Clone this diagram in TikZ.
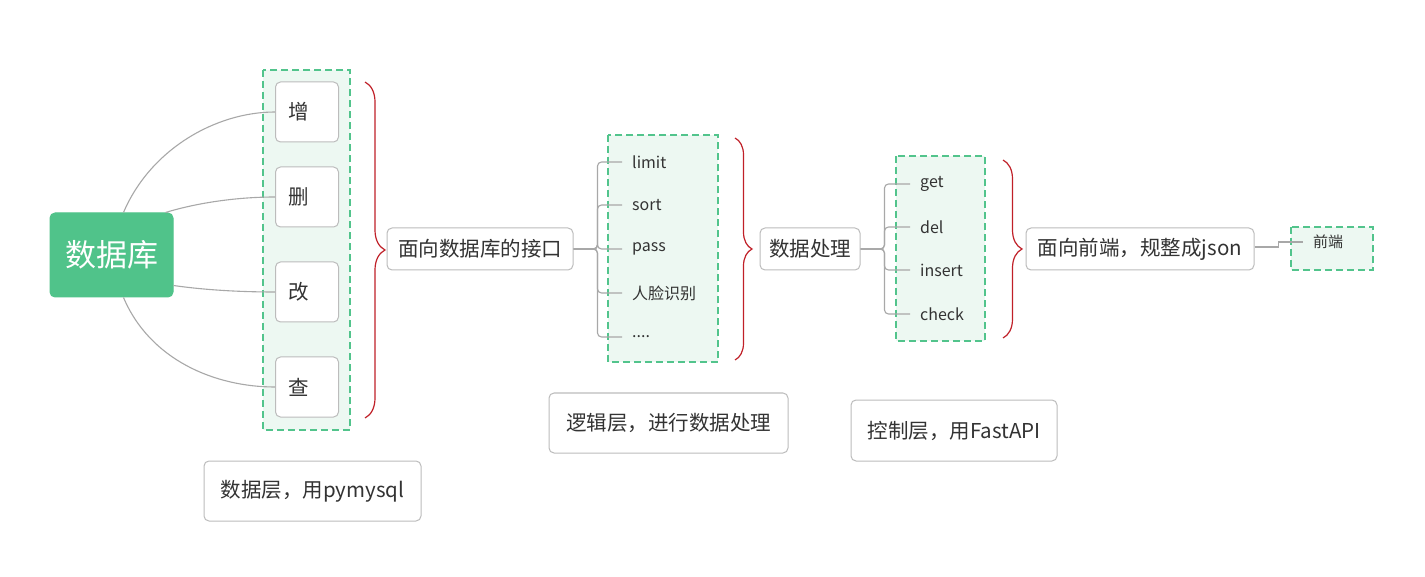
\documentclass[tikz,border=0pt]{standalone}
\usepackage{fontspec}
\setmainfont{Noto Sans CJK SC}
\usepackage{tikz}
\usetikzlibrary{decorations.pathreplacing}
\definecolor{rootgreen}{RGB}{80,195,138}
\definecolor{dashgreen}{RGB}{82,196,140}
\definecolor{paleg}{RGB}{237,248,242}
\definecolor{boxgray}{RGB}{188,188,188}
\definecolor{linegray}{RGB}{168,168,168}
\definecolor{bracered}{RGB}{192,32,40}
\definecolor{txt}{RGB}{51,51,51}
\tikzset{
    group/.style={draw=dashgreen, fill=paleg, line width=2.8pt, dash pattern=on 7pt off 4pt},
    topic/.style={draw=boxgray, fill=white, rounded corners=5pt, line width=1pt, text=txt,
        font=\fontsize{20.5}{24}\selectfont, inner sep=0pt},
    op/.style={topic, anchor=west, text width=37pt, inner xsep=13pt, minimum height=60pt, align=left},
    leaf/.style={anchor=west, inner xsep=10pt, inner ysep=2pt, text=txt, font=\fontsize{16}{19}\selectfont},
    link/.style={draw=linegray, line width=1.1pt},
    tree/.style={link, rounded corners=4pt},
    curly/.style={draw=bracered, line width=1.2pt, decorate, decoration={brace, amplitude=#1}}
}
\begin{document}
\begin{tikzpicture}[x=1pt,y=-1pt]
\useasboundingbox[fill=white] (0,0) rectangle (1425,577);

% dashed groups
\draw[group] (263,70) rectangle (350,430);
\draw[group] (608,135) rectangle (718,362);
\draw[group] (896,156) rectangle (985,341);
\draw[group] (1291,227) rectangle (1373,270);

% database and its four operations
\node[topic, minimum width=123pt, minimum height=84pt, fill=rootgreen, draw=rootgreen, text=white,
    font=\fontsize{31}{36}\selectfont] (db) at (111.5,255) {数据库};

\node[op] (add) at (275,112) {增};
\node[op] (del) at (275,197) {删};
\node[op] (upd) at (275,292) {改};
\node[op] (qry) at (275,387) {查};

\draw[link] ([xshift=12pt]db.north) .. controls (150,150) and (215,112) .. (add.west);
\draw[link] ([xshift=-8pt]db.north east) .. controls (200,202) and (240,197) .. (del.west);
\draw[link] ([yshift=12pt]db.south east) .. controls (205,290) and (240,292) .. (upd.west);
\draw[link] ([xshift=12pt]db.south) .. controls (150,360) and (215,387) .. (qry.west);

\draw[curly=20pt] (365,82) -- (365,418);

% interface layer
\node[topic, minimum width=186pt, minimum height=42pt] (api) at (480,249) {面向数据库的接口};

\node[leaf] (limit) at (622,162) {limit};
\node[leaf] (sort) at (622,205) {sort};
\node[leaf] (pass) at (622,249) {pass};
\node[leaf] (face) at (622,293) {人脸识别};
\node[leaf] (more) at (622,337) {....};

\draw[tree] (api.east) -- ++(24,0) |- (limit.west);
\draw[tree] (api.east) -- ++(24,0) |- (sort.west);
\draw[tree] (api.east) -- ++(24,0) |- (pass.west);
\draw[tree] (api.east) -- ++(24,0) |- (face.west);
\draw[tree] (api.east) -- ++(24,0) |- (more.west);

\draw[curly=17pt] (735,138) -- (735,360);

% processing
\node[topic, minimum width=100pt, minimum height=42pt] (proc) at (810,249) {数据处理};

\node[leaf] (get) at (910,184) {get};
\node[leaf] (dele) at (910,227) {del};
\node[leaf] (ins) at (910,270) {insert};
\node[leaf] (chk) at (910,314) {check};

\draw[tree] (proc.east) -- ++(24,0) |- (get.west);
\draw[tree] (proc.east) -- ++(24,0) |- (dele.west);
\draw[tree] (proc.east) -- ++(24,0) |- (ins.west);
\draw[tree] (proc.east) -- ++(24,0) |- (chk.west);

\draw[curly=19pt] (1003,160) -- (1003,338);

% front end
\node[topic, minimum width=228pt, minimum height=42pt] (json) at (1140,249) {面向前端，规整成json};
\node[leaf, font=\fontsize{15}{18}\selectfont] (front) at (1303,242) {前端};
\draw[link] ([yshift=2pt]json.east) -- ++(24,0) |- (front.west);

% layer captions
\node[topic, minimum width=217pt, minimum height=60pt] (datalayer) at (312.5,491) {数据层，用pymysql};
\node[topic, minimum width=239pt, minimum height=60pt] (logiclayer) at (668.5,423) {逻辑层，进行数据处理};
\node[topic, minimum width=206pt, minimum height=61pt] (ctrllayer) at (954,430.5) {控制层，用FastAPI};
\end{tikzpicture}
\end{document}
